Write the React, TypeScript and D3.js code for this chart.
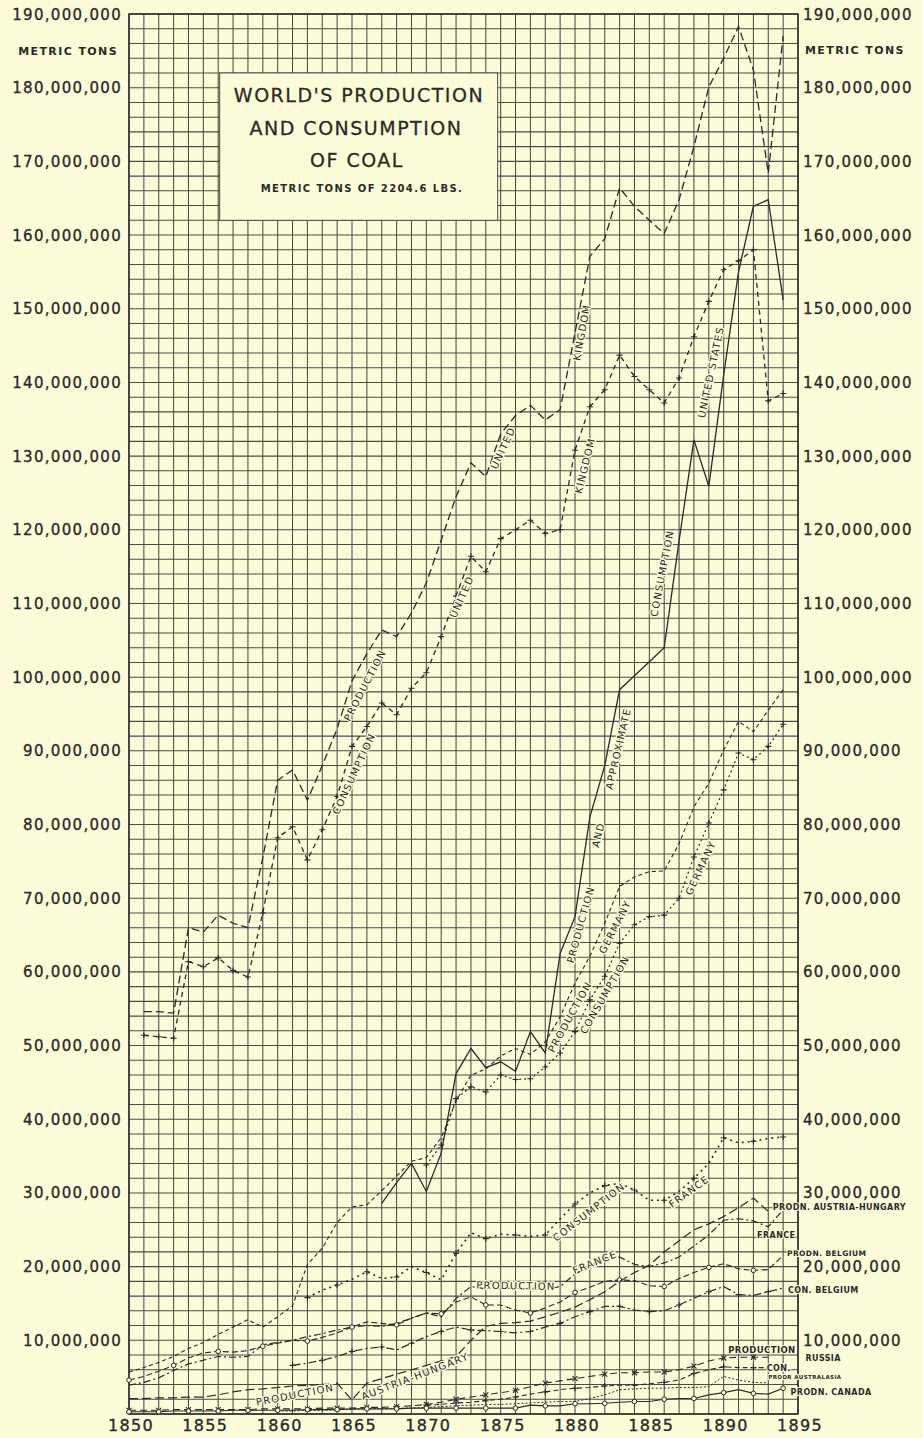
import React from 'react';
import * as d3 from 'd3';

// values in millions of metric tons, one value per year from the start year
const yearTicks = [1850, 1855, 1860, 1865, 1870, 1875, 1880, 1885, 1890, 1895];
const tonTicks = [10, 20, 30, 40, 50, 60, 70, 80, 90, 100, 110, 120, 130, 140, 150, 160, 170, 180, 190];

const ukProductionStart = 1851;
const ukProduction = [54.6, 54.6, 54.4, 66.0, 65.4, 67.7, 66.6, 66.0, 75.5, 86.0, 87.4, 83.3, 88.0, 93.0, 99.5,
  103.2, 106.4, 105.5, 108.7, 112.8, 118.6, 124.5, 129.1, 127.2, 133.0, 135.5, 136.9, 134.9, 136.3, 146.7,
  157.1, 159.5, 166.4, 163.9, 162.0, 160.2, 164.8, 172.0, 180.1, 184.0, 188.3, 182.4, 168.4, 187.0];

const ukConsumptionStart = 1851;
const ukConsumption = [51.4, 51.2, 51.0, 61.4, 60.7, 61.9, 60.2, 59.3, 68.0, 78.2, 79.7, 75.2, 79.3, 83.8, 90.6,
  93.3, 96.5, 94.9, 98.5, 100.6, 105.5, 111.0, 116.4, 114.3, 118.8, 120.0, 121.3, 119.5, 120.0, 130.8,
  136.7, 139.0, 143.7, 140.8, 139.0, 137.2, 140.6, 146.2, 151.0, 155.3, 156.5, 158.0, 137.5, 138.5];

const usStart = 1867;
const usProductionConsumption = [28.6, 31.4, 34.0, 30.2, 35.4, 46.2, 49.6, 47.0, 47.8, 46.5, 51.9, 49.0, 62.5,
  67.5, 81.0, 88.0, 98.3, 100.2, 102.1, 104.0, 118.5, 132.2, 125.9, 141.0, 155.0, 163.9, 164.8, 151.2];

const germanyProductionStart = 1850;
const germanyProduction = [5.7, 6.3, 7.0, 7.8, 8.9, 9.7, 10.8, 11.8, 12.8, 11.8, 13.2, 14.7, 20.3, 22.5, 26.0,
  28.1, 28.4, 30.3, 32.3, 34.3, 34.8, 37.5, 42.5, 46.0, 46.8, 48.6, 49.6, 48.8, 50.5, 53.9, 58.5, 62.1, 66.6,
  71.6, 72.9, 73.6, 73.7, 77.4, 82.4, 85.6, 90.1, 94.0, 92.6, 95.5, 98.3];

const germanyConsumptionStart = 1870;
const germanyConsumption = [33.8, 36.5, 42.8, 44.4, 43.7, 46.0, 45.4, 45.5, 47.1, 49.0, 51.9, 56.2, 59.4, 63.9,
  66.4, 67.5, 67.7, 70.0, 75.6, 80.2, 84.7, 89.7, 88.8, 90.6, 93.6];

const franceConsumptionStart = 1862;
const franceConsumption = [15.8, 16.8, 17.5, 18.3, 19.3, 18.4, 18.6, 20.0, 19.2, 18.2, 21.8, 24.6, 23.8, 24.4,
  24.3, 24.1, 24.3, 26.5, 28.5, 30.0, 31.0, 31.3, 30.4, 29.0, 29.0, 30.2, 32.0, 34.0, 37.5, 36.8, 37.0, 37.4, 37.6];

const franceProductionStart = 1850;
const franceProduction = [3.9, 4.3, 4.9, 5.9, 6.8, 7.3, 7.8, 7.7, 7.8, 9.4, 9.7, 10.0, 10.5, 10.9, 11.4, 11.8,
  12.0, 11.9, 12.3, 13.0, 13.7, 13.2, 15.7, 17.3, 17.0, 17.0, 17.1, 17.0, 16.9, 17.3, 19.0, 20.0, 21.2, 21.3,
  20.3, 20.0, 20.5, 21.3, 22.8, 24.3, 26.3, 26.5, 26.2, 25.4, 27.7];

const belgiumProductionStart = 1850;
const belgiumProduction = [4.6, 5.1, 5.8, 6.6, 7.6, 8.3, 8.5, 8.4, 8.6, 9.2, 9.6, 10.0, 9.9, 10.4, 11.0, 11.8,
  12.5, 12.3, 12.1, 13.0, 13.7, 13.6, 15.2, 15.9, 14.8, 14.8, 14.1, 13.7, 14.4, 15.2, 16.5, 17.2, 18.0, 18.2,
  18.1, 17.4, 17.3, 18.4, 19.2, 19.9, 20.4, 19.7, 19.5, 19.6, 21.5];

const belgiumConsumptionStart = 1861;
const belgiumConsumption = [6.6, 6.9, 7.3, 7.8, 8.5, 8.9, 9.1, 8.7, 9.6, 10.5, 11.2, 11.8, 11.4, 11.3, 11.2, 11.0,
  11.2, 11.8, 12.3, 13.2, 13.9, 14.6, 14.6, 14.1, 13.9, 14.0, 14.8, 15.7, 16.6, 17.3, 16.2, 16.1, 16.6, 17.1];

const austriaStart = 1850;
const austriaProduction = [2.1, 2.1, 2.2, 2.2, 2.3, 2.3, 2.6, 3.0, 3.3, 3.4, 3.6, 3.8, 3.9, 4.0, 4.2, 1.9, 4.2,
  4.8, 5.4, 6.0, 6.6, 7.2, 7.8, 10.0, 11.9, 12.3, 12.4, 12.6, 13.2, 13.8, 14.5, 15.5, 16.6, 18.0, 19.2, 20.2,
  22.0, 23.5, 25.0, 25.8, 26.8, 28.0, 29.3, 27.5];

const russiaProductionStart = 1850;
const russiaProduction = [0.5, 0.5, 0.5, 0.6, 0.6, 0.6, 0.6, 0.6, 0.6, 0.7, 0.7, 0.7, 0.7, 0.8, 0.8, 0.8, 0.9,
  0.9, 1.0, 1.1, 1.3, 1.6, 2.0, 2.3, 2.6, 2.9, 3.2, 3.7, 4.2, 4.5, 4.8, 5.1, 5.4, 5.6, 5.6, 5.7, 5.7, 6.0, 6.5,
  7.2, 7.6, 7.7, 7.7, 7.7];

const russiaConsumptionStart = 1870;
const russiaConsumption = [1.2, 1.3, 1.5, 1.6, 1.8, 2.0, 2.3, 2.7, 3.0, 3.3, 3.5, 3.6, 3.8, 3.9, 3.9, 4.1, 4.3,
  4.6, 5.5, 6.0, 6.4, 6.3, 6.3, 6.3];

const australasiaStart = 1860;
const australasiaProduction = [0.4, 0.4, 0.5, 0.5, 0.6, 0.6, 0.7, 0.7, 0.8, 0.8, 0.9, 1.0, 1.1, 1.2, 1.3, 1.3,
  1.4, 1.5, 1.6, 1.7, 1.7, 2.1, 2.6, 3.3, 3.4, 3.5, 3.5, 3.6, 3.6, 3.7, 5.1, 4.6, 4.3, 4.2];

const canadaStart = 1850;
const canadaProduction = [0.3, 0.3, 0.3, 0.4, 0.4, 0.4, 0.4, 0.5, 0.5, 0.5, 0.5, 0.5, 0.6, 0.6, 0.6, 0.7, 0.7,
  0.7, 0.7, 0.8, 0.8, 0.8, 0.8, 0.8, 0.8, 0.8, 0.8, 1.2, 1.1, 1.1, 1.4, 1.4, 1.45, 1.6, 1.7, 1.7, 2.0, 2.1, 2.1,
  2.6, 2.9, 3.3, 2.8, 2.7, 3.5];

const BG = '#fdfcd9';
const INK = '#2a2a2a';
const GRID = '#4a4a46';
const FONT = '"DejaVu Sans", Verdana, sans-serif';

type Marker = 'plus' | 'cross' | 'circle' | null;

const series: { start: number; values: number[]; dash: string; width: number; marker: Marker; every?: number }[] = [
  { start: ukProductionStart, values: ukProduction, dash: '8,4', width: 1.3, marker: null },
  { start: ukConsumptionStart, values: ukConsumption, dash: '5,4', width: 1.3, marker: 'plus' },
  { start: usStart, values: usProductionConsumption, dash: '', width: 1.3, marker: null },
  { start: germanyProductionStart, values: germanyProduction, dash: '4,3', width: 1.1, marker: null },
  { start: germanyConsumptionStart, values: germanyConsumption, dash: '2,3', width: 1.2, marker: 'plus' },
  { start: franceConsumptionStart, values: franceConsumption, dash: '2,4', width: 1.6, marker: 'plus', every: 2 },
  { start: franceProductionStart, values: franceProduction, dash: '7,3,2,3', width: 1.2, marker: null },
  { start: belgiumProductionStart, values: belgiumProduction, dash: '6,3', width: 1.1, marker: 'circle', every: 3 },
  { start: belgiumConsumptionStart, values: belgiumConsumption, dash: '8,3,2,3', width: 1.2, marker: 'plus', every: 2 },
  { start: austriaStart, values: austriaProduction, dash: '9,4', width: 1.2, marker: null },
  { start: russiaProductionStart, values: russiaProduction, dash: '7,4', width: 1.1, marker: 'cross', every: 2 },
  { start: russiaConsumptionStart, values: russiaConsumption, dash: '5,3', width: 1.1, marker: 'plus', every: 2 },
  { start: australasiaStart, values: australasiaProduction, dash: '2,2', width: 1.0, marker: null },
  { start: canadaStart, values: canadaProduction, dash: '', width: 1.1, marker: 'circle', every: 2 },
];

// text written along the lines: [text, year, million tons, angle]
const lineLabels: [string, number, number, number][] = [
  ['PRODUCTION', 1865.87, 98.9, -62.5],
  ['CONSUMPTION', 1865.13, 86.9, -65],
  ['UNITED', 1875.16, 131.1, -65],
  ['UNITED', 1872.38, 110.9, -66],
  ['KINGDOM', 1880.45, 146.8, -79.5],
  ['KINGDOM', 1880.67, 128.7, -76],
  ['UNITED STATES', 1889.15, 141.4, -78],
  ['CONSUMPTION', 1885.86, 114.1, -79],
  ['APPROXIMATE', 1882.91, 90.3, -77],
  ['AND', 1881.57, 78.6, -76],
  ['PRODUCTION', 1880.38, 66.4, -74.5],
  ['PRODUCTION', 1879.66, 53.9, -61],
  ['CONSUMPTION', 1882.0, 56.9, -60],
  ['GERMANY', 1882.69, 66.1, -63],
  ['GERMANY', 1888.45, 74.1, -65],
  ['PRODUCTION', 1861.17, 2.6, -11],
  ['AUSTRIA-HUNGARY', 1869.24, 5.1, -21],
  ['PRODUCTION', 1876.03, 17.4, 1],
  ['FRANCE', 1881.34, 20.6, -22],
  ['CONSUMPTION', 1880.93, 27.4, -38],
  ['FRANCE', 1887.67, 30.2, -36],
];

// labels at the right end of the small series: [text, year, million tons, size]
const endLabels: [string, number, number, number][] = [
  ['PRODN. AUSTRIA-HUNGARY', 1893.3, 28.0, 8],
  ['FRANCE', 1892.25, 24.2, 8],
  ['PRODN. BELGIUM', 1894.26, 21.8, 7.5],
  ['CON. BELGIUM', 1894.33, 16.8, 8],
  ['PRODUCTION', 1890.3, 8.7, 8.5],
  ['RUSSIA', 1895.5, 7.5, 8],
  ['CON.', 1892.9, 6.2, 8],
  ['PRODR  AUSTRALASIA', 1893.0, 5.0, 5.5],
  ['PRODN. CANADA', 1894.5, 2.9, 8],
];

const x = d3.scaleLinear().domain([1850, 1895]).range([129, 798]);
const y = d3.scaleLinear().domain([0, 190]).range([1414, 14]);

function markerShape(m: Marker, cx: number, cy: number, k: string) {
  if (m === 'plus') {
    return <path key={k} d={`M${cx - 3},${cy}H${cx + 3}M${cx},${cy - 3}V${cy + 3}`} stroke={INK} strokeWidth={1.1} />;
  }
  if (m === 'cross') {
    return <path key={k} d={`M${cx - 2.5},${cy - 2.5}L${cx + 2.5},${cy + 2.5}M${cx - 2.5},${cy + 2.5}L${cx + 2.5},${cy - 2.5}`} stroke={INK} strokeWidth={1.1} />;
  }
  if (m === 'circle') {
    return <circle key={k} cx={cx} cy={cy} r={2.3} fill={BG} stroke={INK} strokeWidth={1} />;
  }
  return null;
}

export default function App() {
  const hLines = d3.range(0, 191, 2);
  const vLines = d3.range(1850, 1896, 1);
  const fmt = d3.format(',');

  return (
    <svg width={923} height={1438} style={{ position: 'absolute', left: 0, top: 0, display: 'block' }} fontFamily={FONT}>
      <rect width={923} height={1438} fill={BG} />

      {/* grid */}
      <g stroke={GRID} strokeWidth={1.05}>
        {hLines.map(v => <line key={'h' + v} x1={x(1850)} x2={x(1895)} y1={y(v)} y2={y(v)} />)}
        {vLines.map(v => <line key={'v' + v} x1={x(v)} x2={x(v)} y1={y(0)} y2={y(190)} />)}
      </g>
      <rect x={x(1850)} y={y(190)} width={x(1895) - x(1850)} height={y(0) - y(190)} fill="none" stroke={INK} strokeWidth={1.5} />

      {/* title box */}
      <rect x={x(1856.1)} y={y(182)} width={x(1874.8) - x(1856.1)} height={y(162) - y(182)} fill={BG} stroke={GRID} strokeWidth={1} />
      <g fill={INK} stroke={INK} strokeWidth={0.3} textAnchor="middle">
        <text x={359} y={102} fontSize={19} letterSpacing={1.5}>WORLD'S PRODUCTION</text>
        <text x={356} y={135} fontSize={19} letterSpacing={1.5}>AND CONSUMPTION</text>
        <text x={357} y={167} fontSize={19} letterSpacing={1.5}>OF COAL</text>
        <text x={362} y={192} fontSize={10} fontWeight="bold" strokeWidth={0} letterSpacing={1.4}>METRIC TONS OF 2204.6 LBS.</text>
      </g>

      {/* series */}
      {series.map((s, i) => {
        const pts = s.values.map((v, j) => [x(s.start + j), y(v)] as [number, number]);
        return (
          <g key={'s' + i}>
            <path d={d3.line()(pts) || ''} fill="none" stroke={INK} strokeWidth={s.width} strokeDasharray={s.dash || undefined} />
            {s.marker && pts.filter((_, j) => j % (s.every || 1) === 0).map((p, j) => markerShape(s.marker, p[0], p[1], `m${i}-${j}`))}
          </g>
        );
      })}

      {/* labels along lines */}
      <g fill={INK} fontSize={10} letterSpacing={1.2}>
        {lineLabels.map(([t, yr, v, a], i) => (
          <text key={'l' + i} transform={`translate(${x(yr)},${y(v)}) rotate(${a})`} textAnchor="middle" dominantBaseline="central"
            stroke={BG} strokeWidth={2.5} paintOrder="stroke">{t}</text>
        ))}
      </g>
      <g fill={INK} fontWeight="bold">
        {endLabels.map(([t, yr, v, sz], i) => (
          <text key={'e' + i} x={x(yr)} y={y(v)} fontSize={sz} dominantBaseline="central" letterSpacing={0.4}
            stroke={BG} strokeWidth={2} paintOrder="stroke">{t}</text>
        ))}
      </g>

      {/* axes labels */}
      <g fill={INK} stroke={INK} strokeWidth={0.35} fontSize={15} letterSpacing={1.3}>
        {tonTicks.map(v => (
          <text key={'yl' + v} x={122} y={y(v) + 5.5} textAnchor="end">{fmt(v * 1e6)}</text>
        ))}
        {tonTicks.map(v => (
          <text key={'yr' + v} x={803} y={y(v) + 5.5}>{fmt(v * 1e6)}</text>
        ))}
        {yearTicks.map(v => (
          <text key={'x' + v} x={x(v) + 2} y={1431} textAnchor="middle" fontSize={16}>{v}</text>
        ))}
      </g>
      <g fill={INK} fontSize={11} fontWeight="bold" letterSpacing={1.4}>
        <text x={118} y={55} textAnchor="end">METRIC TONS</text>
        <text x={805} y={54}>METRIC TONS</text>
      </g>
    </svg>
  );
}
